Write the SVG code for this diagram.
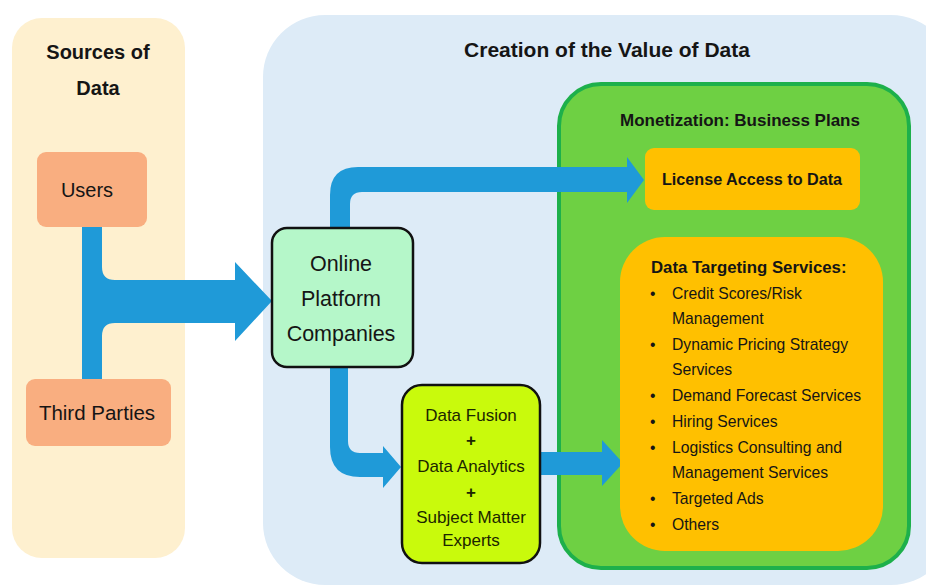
<svg xmlns="http://www.w3.org/2000/svg" width="926" height="588" viewBox="0 0 926 588">
<style>
text{font-family:"Liberation Sans",Arial,sans-serif;fill:#151515}
.b{font-weight:bold}
.c{text-anchor:middle}
.src{fill:#F9AE80}
.arrow{fill:#1F9AD8}
.li{font-size:15.7px;fill:#2a1f00}
.df{font-size:17px;fill:#1c2600}
</style>
<rect id="bg" x="0" y="0" width="926" height="588" fill="#ffffff"/>
<g id="sources-panel">
<rect x="12" y="18" width="173" height="540" rx="30" fill="#FEF0CF"/>
<text class="b c" x="98" y="59" font-size="20">Sources of</text>
<text class="b c" x="98" y="95" font-size="20">Data</text>
</g>
<g id="creation-panel">
<rect x="263" y="15" width="690" height="570" rx="62" fill="#DDEBF7"/>
<text class="b c" x="607" y="57" font-size="21">Creation of the Value of Data</text>
</g>
<g id="monetization">
<rect x="559" y="84" width="350" height="484" rx="42" fill="#6ED043" stroke="#1DB04B" stroke-width="4"/>
<text class="b c" x="740" y="126" font-size="17">Monetization: Business Plans</text>
</g>
<g id="connectors">
<path class="arrow" d="M82,227 V379 H102 V336 Q102,323 115,323 H235 V341 L272,301 L235,262 V280 H115 Q102,280 102,267 V227 Z"/>
<path class="arrow" d="M330,228 V195 Q330,167 358,167 H627 V157 L644,180 L627,203 V192 H362 Q350,192 350,204 V228 Z"/>
<path class="arrow" d="M330,367 V447 Q330,477 360,477 H383 V488 L401,467 L383,446 V453 H360 Q348,453 348,441 V367 Z"/>
<path class="arrow" d="M540,452 H602 V440 L623,463 L602,486 V475 H540 Z"/>
</g>
<g id="users">
<rect class="src" x="37" y="152" width="110" height="75" rx="9"/>
<text class="c" x="87" y="197" font-size="20">Users</text>
</g>
<g id="third-parties">
<rect class="src" x="26" y="379" width="145" height="67" rx="9"/>
<text class="c" x="97" y="420" font-size="20.5">Third Parties</text>
</g>
<g id="online-platform">
<rect x="272" y="228" width="141" height="139" rx="15" fill="#B5F7C9" stroke="#111" stroke-width="2.5"/>
<text class="c" x="341" y="271" font-size="21.5">Online</text>
<text class="c" x="341" y="306" font-size="21.5">Platform</text>
<text class="c" x="341" y="341" font-size="21.5">Companies</text>
</g>
<g id="data-fusion">
<rect x="402" y="385" width="138" height="178" rx="20" fill="#C9FA0C" stroke="#111" stroke-width="2.5"/>
<text class="df c" x="471" y="421">Data Fusion</text>
<text class="df c b" x="471" y="446">+</text>
<text class="df c" x="471" y="472">Data Analytics</text>
<text class="df c b" x="471" y="498">+</text>
<text class="df c" x="471" y="523">Subject Matter</text>
<text class="df c" x="471" y="546">Experts</text>
</g>
<g id="license-access">
<rect x="645" y="148" width="215" height="62" rx="9" fill="#FFC000"/>
<text class="b c" x="752" y="185" font-size="16.2">License Access to Data</text>
</g>
<g id="data-targeting">
<rect x="620" y="237" width="263" height="314" rx="45" fill="#FFC000"/>
<text class="b" x="651" y="273" font-size="16.8">Data Targeting Services:</text>
<g class="li">
<text x="650" y="299">•</text><text x="672" y="299">Credit Scores/Risk</text>
<text x="672" y="324">Management</text>
<text x="650" y="350">•</text><text x="672" y="350">Dynamic Pricing Strategy</text>
<text x="672" y="375">Services</text>
<text x="650" y="401">•</text><text x="672" y="401">Demand Forecast Services</text>
<text x="650" y="427">•</text><text x="672" y="427">Hiring Services</text>
<text x="650" y="453">•</text><text x="672" y="453">Logistics Consulting and</text>
<text x="672" y="478">Management Services</text>
<text x="650" y="504">•</text><text x="672" y="504">Targeted Ads</text>
<text x="650" y="530">•</text><text x="672" y="530">Others</text>
</g>
</g>
</svg>
